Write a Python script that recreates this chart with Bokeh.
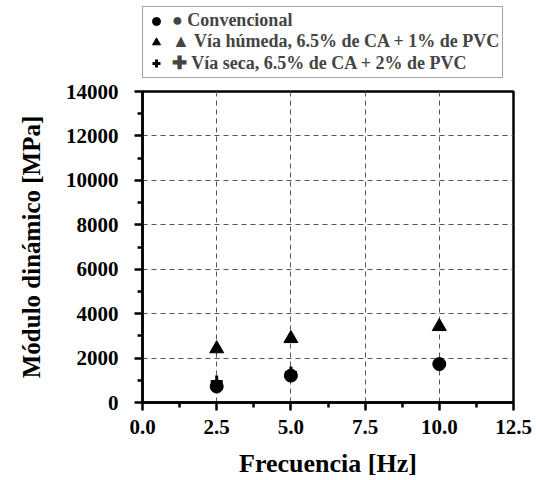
from bokeh.plotting import figure
from bokeh.models import Legend, LegendItem, FixedTicker
from bokeh.layouts import column
from bokeh.embed import file_html
from bokeh.resources import INLINE

freq = [2.5, 5.0, 10.0]
convencional = [720, 1210, 1730]
via_humeda = [2420, 2880, 3420]
via_seca = [950, 1350, 1700]

x_ticks = [0.0, 2.5, 5.0, 7.5, 10.0, 12.5]
y_ticks = [0, 2000, 4000, 6000, 8000, 10000, 12000, 14000]

labels = ["\u25cf Convencional",
          "\u25b2 V\u00eda h\u00fameda, 6.5% de CA + 1% de PVC",
          "\u271a V\u00eda seca, 6.5% de CA + 2% de PVC"]

FONT = "Liberation Serif"

p = figure(width=536, height=401, output_backend="svg", toolbar_location=None,
           x_range=(0, 12.5), y_range=(0, 14000),
           min_border_left=142, min_border_right=23, min_border_top=12, min_border_bottom=77)

r1 = p.scatter(freq, convencional, marker="circle", size=13, color="black")
r2 = p.scatter(freq, via_humeda, marker="triangle", size=14, color="black")
r3 = p.scatter(freq, via_seca, marker="cross", size=12, color="black", line_width=3)

p.xaxis.ticker = FixedTicker(ticks=x_ticks, minor_ticks=[1.25, 3.75, 6.25, 8.75, 11.25])
p.yaxis.ticker = FixedTicker(ticks=y_ticks, minor_ticks=[1000, 3000, 5000, 7000, 9000, 11000, 13000])
p.xaxis.major_label_overrides = {t: f"{t:.1f}" for t in x_ticks}

for ax in (p.xaxis, p.yaxis):
    ax.axis_line_width = 2.5
    ax.axis_line_color = "black"
    ax.major_tick_line_width = 2.5
    ax.minor_tick_line_width = 2.5
    ax.major_tick_out = 8
    ax.major_tick_in = 0
    ax.minor_tick_out = 5
    ax.minor_tick_in = 0
    ax.major_label_text_font = FONT
    ax.major_label_text_font_style = "bold"
    ax.major_label_text_font_size = "21px"
    ax.major_label_text_color = "black"
    ax.axis_label_text_font = FONT
    ax.axis_label_text_font_style = "bold"
    ax.axis_label_text_color = "black"

p.xaxis.axis_label = "Frecuencia [Hz]"
p.yaxis.axis_label = "M\u00f3dulo din\u00e1mico [MPa]"
p.xaxis.axis_label_text_font_size = "26px"
p.yaxis.axis_label_text_font_size = "25px"
p.xaxis.major_label_standoff = 9
p.yaxis.major_label_standoff = 16
p.xaxis.axis_label_standoff = 12
p.yaxis.axis_label_standoff = 18

p.xgrid.ticker = FixedTicker(ticks=[2.5, 5.0, 7.5, 10.0])
p.ygrid.ticker = FixedTicker(ticks=[2000, 4000, 6000, 8000, 10000, 12000])
for g in (p.xgrid, p.ygrid):
    g.grid_line_color = "#555555"
    g.grid_line_dash = "5 4"
    g.grid_line_width = 1

p.outline_line_color = "black"
p.outline_line_width = 2.5
p.background_fill_color = "white"
p.border_fill_color = "white"

# legend panel above the chart (its series lie outside its view; only the legend shows)
lf = figure(width=536, height=79, output_backend="svg", toolbar_location=None,
            x_range=(0, 1), y_range=(-1, 0), min_border=0,
            x_axis_type=None, y_axis_type=None)
lf.frame_align = False
lf.outline_line_color = None
lf.xgrid.visible = False
lf.ygrid.visible = False
l1 = lf.scatter(freq, convencional, marker="circle", size=13, color="black")
l2 = lf.scatter(freq, via_humeda, marker="triangle", size=14, color="black")
l3 = lf.scatter(freq, via_seca, marker="cross", size=12, color="black", line_width=3)

legend = Legend(items=[LegendItem(label=labels[0], renderers=[l1]),
                       LegendItem(label=labels[1], renderers=[l2]),
                       LegendItem(label=labels[2], renderers=[l3])],
                location=(142, 1), orientation="vertical")
legend.label_text_font = FONT
legend.label_text_font_style = "bold"
legend.label_text_font_size = "18px"
legend.label_height = 19
legend.glyph_height = 20
legend.glyph_width = 20
legend.label_standoff = 6
legend.spacing = 0
legend.padding = 3
legend.margin = 0
legend.border_line_color = "#444444"
legend.border_line_width = 1
legend.background_fill_alpha = 1
lf.add_layout(legend, "center")

layout = column(lf, p, spacing=0)
open("out.html", "w").write(file_html(layout, INLINE))
